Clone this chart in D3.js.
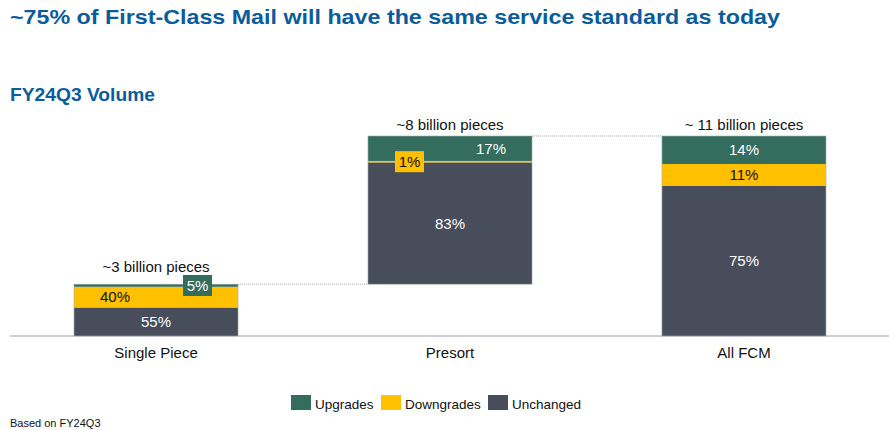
<!DOCTYPE html>
<html>
<head>
<meta charset="utf-8">
<script src="https://cdn.jsdelivr.net/npm/d3@7"></script>
<style>
  html, body { margin: 0; padding: 0; background: #ffffff; }
  svg { display: block; font-family: "Liberation Sans", Arial, sans-serif; }
</style>
</head>
<body>
<svg id="chart" width="889" height="430"></svg>
<script>
// ---- data ----
const categories = ["Single Piece", "Presort", "All FCM"];
const volumeStart = [0, 2.85, 0];          // billions, waterfall base
const volumeEnd   = [2.85, 11, 11];         // billions, waterfall top
const volumeLabels = ["~3 billion pieces", "~8 billion pieces", "~ 11 billion pieces"];
const upgrades   = [5, 17, 14];
const downgrades = [40, 1, 11];
const unchanged  = [55, 83, 75];
const seriesNames = ["Upgrades", "Downgrades", "Unchanged"];

// ---- styles ----
const colors = { Upgrades: "#346c5d", Downgrades: "#ffc000", Unchanged: "#474d5a" };
const textColors = { Upgrades: "#ffffff", Downgrades: "#111111", Unchanged: "#ffffff" };
const titleColor = "#0b5c9a";

const svg = d3.select("#chart");

const x = d3.scaleBand().domain(categories).range([74, 826]).paddingInner(0.442).paddingOuter(0);
const y = d3.scaleLinear().domain([0, 11]).range([336, 136]);

// Titles
svg.append("text").attr("x", 10).attr("y", 23.5)
  .attr("font-size", 21).attr("font-weight", "bold").attr("fill", titleColor)
  .attr("textLength", 770).attr("lengthAdjust", "spacingAndGlyphs")
  .text("~75% of First-Class Mail will have the same service standard as today");
svg.append("text").attr("x", 10).attr("y", 101)
  .attr("font-size", 18).attr("font-weight", "bold").attr("fill", titleColor)
  .attr("textLength", 145).attr("lengthAdjust", "spacingAndGlyphs")
  .text("FY24Q3 Volume");

// Build stacked rows
const rows = categories.map((c, i) => {
  const vals = { Upgrades: upgrades[i], Downgrades: downgrades[i], Unchanged: unchanged[i] };
  const total = upgrades[i] + downgrades[i] + unchanged[i];
  const span = volumeEnd[i] - volumeStart[i];
  let cur = volumeStart[i];
  const segs = [];
  ["Unchanged", "Downgrades", "Upgrades"].forEach(k => {
    const h = span * vals[k] / total;
    segs.push({ cat: c, idx: i, key: k, pct: vals[k], v0: cur, v1: cur + h });
    cur += h;
  });
  return { cat: c, idx: i, segs };
});

// axis baseline
svg.append("line").attr("x1", 10).attr("x2", 889).attr("y1", y(0)).attr("y2", y(0))
  .attr("stroke", "#c4bcca").attr("stroke-width", 1.5);

// connectors (dotted)
for (let i = 0; i < categories.length - 1; i++) {
  svg.append("line")
    .attr("x1", x(categories[i]) + x.bandwidth()).attr("x2", x(categories[i + 1]))
    .attr("y1", y(volumeEnd[i])).attr("y2", y(volumeEnd[i]))
    .attr("stroke", "#a9a9a9").attr("stroke-width", 1).attr("stroke-dasharray", "1,1");
}

// bars
const g = svg.append("g");
rows.forEach(r => {
  g.selectAll(null).data(r.segs).enter().append("rect")
    .attr("x", d => x(d.cat))
    .attr("width", x.bandwidth())
    .attr("y", d => y(d.v1))
    .attr("height", d => y(d.v0) - y(d.v1))
    .attr("fill", d => colors[d.key]);
  // light outline of bar
  g.append("rect")
    .attr("x", x(r.cat)).attr("width", x.bandwidth())
    .attr("y", y(volumeEnd[r.idx])).attr("height", y(volumeStart[r.idx]) - y(volumeEnd[r.idx]))
    .attr("fill", "none").attr("stroke", "#a7aeb0").attr("stroke-width", 0.6);
});

// labels: horizontal position as fraction of bar width (layout)
const labelFrac = [
  { Upgrades: 0.753, Downgrades: 0.25, Unchanged: 0.5 },
  { Upgrades: 0.75, Downgrades: 0.253, Unchanged: 0.5 },
  { Upgrades: 0.5, Downgrades: 0.5, Unchanged: 0.5 }
];
rows.forEach(r => {
  r.segs.forEach(s => {
    const cx = x(s.cat) + x.bandwidth() * labelFrac[s.idx][s.key];
    const cy = (y(s.v0) + y(s.v1)) / 2;
    const small = (y(s.v0) - y(s.v1)) < 12;
    if (small) {
      g.append("rect").attr("x", cx - 14.5).attr("y", cy - 10.5)
        .attr("width", 29).attr("height", 21).attr("fill", colors[s.key]);
    }
    g.append("text").attr("x", cx).attr("y", cy + 5.3)
      .attr("text-anchor", "middle").attr("font-size", 15)
      .attr("fill", textColors[s.key]).text(s.pct + "%");
  });
});

// volume labels
const volOffset = [12, 6, 6];
categories.forEach((c, i) => {
  svg.append("text").attr("x", x(c) + x.bandwidth() / 2).attr("y", y(volumeEnd[i]) - volOffset[i])
    .attr("text-anchor", "middle").attr("font-size", 15).attr("fill", "#111")
    .text(volumeLabels[i]);
});

// category axis
const xAxis = d3.axisBottom(x).tickSize(0).tickPadding(0);
const ax = svg.append("g").attr("transform", `translate(0,${y(0)})`).call(xAxis);
ax.select(".domain").remove();
ax.selectAll("text").attr("font-size", 15).attr("fill", "#111")
  .attr("font-family", "Liberation Sans, Arial, sans-serif")
  .attr("dy", null).attr("y", 22);

// legend
const legendX = [291, 381, 488];
const lg = svg.append("g");
seriesNames.forEach((n, i) => {
  lg.append("rect").attr("x", legendX[i]).attr("y", 395).attr("width", 20).attr("height", 15)
    .attr("fill", colors[n]);
  lg.append("text").attr("x", legendX[i] + 24).attr("y", 409).attr("font-size", 13.5)
    .attr("fill", "#111").text(n);
});

// footnote
svg.append("text").attr("x", 10).attr("y", 427).attr("font-size", 11).attr("fill", "#111")
  .text("Based on FY24Q3");
</script>
</body>
</html>
